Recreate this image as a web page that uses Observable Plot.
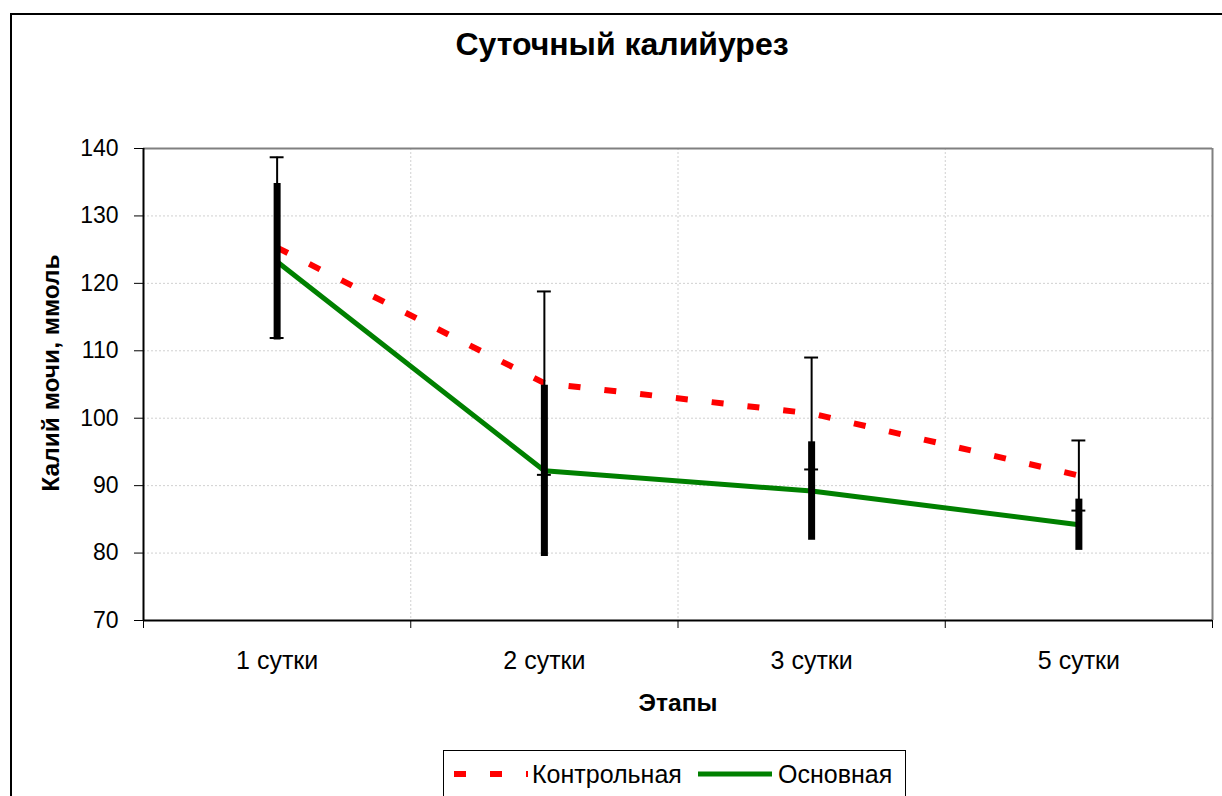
<!DOCTYPE html>
<html><head><meta charset="utf-8">
<script src="https://cdn.jsdelivr.net/npm/d3@7"></script>
<script src="https://cdn.jsdelivr.net/npm/@observablehq/plot@0.6"></script>
<style>
body{margin:0;background:#fff;font-family:"Liberation Sans",Arial,sans-serif;}
#wrap{position:relative;width:1222px;height:796px;overflow:hidden;}
#frame{position:absolute;left:10px;top:13px;width:1300px;height:900px;border:2px solid #000;box-sizing:border-box;}
#title{position:absolute;left:0;width:1244px;top:44px;transform:translateY(-50%);text-align:center;font-weight:bold;font-size:32px;line-height:1;}
#ylab{position:absolute;left:51px;top:373px;transform:translate(-50%,-50%) rotate(-90deg);font-weight:bold;font-size:24.5px;white-space:nowrap;line-height:1;}
#xlab{position:absolute;left:678px;top:703px;transform:translate(-50%,-50%);font-weight:bold;font-size:24.5px;line-height:1;}
#legend{position:absolute;left:443px;top:750px;width:463px;height:60px;border:1.5px solid #000;box-sizing:border-box;font-size:25px;line-height:1;}
#legend svg{position:absolute;left:0;top:0;}
#legend span{position:absolute;top:11px;}
#plot{position:absolute;left:0;top:0;}
</style></head>
<body>
<div id="wrap">
<div id="frame"></div>
<div id="plot"></div>
<div id="title">Суточный калийурез</div>
<div id="ylab">Калий мочи, ммоль</div>
<div id="xlab">Этапы</div>
<div id="legend">
<svg width="463" height="60"><line x1="10" x2="84" y1="23" y2="23" stroke="#ff0000" stroke-width="6" stroke-dasharray="12,24"/><line x1="254" x2="328" y1="23" y2="23" stroke="#008000" stroke-width="5"/></svg>
<span style="left:88px">Контрольная</span><span style="left:334px">Основная</span>
</div>
</div>
<script>
const categories = ["1 сутки", "2 сутки", "3 сутки", "5 сутки"];
const controlValues = [125.3, 105.2, 100.7, 91.5];
const controlErrors = [13.4, 13.6, 8.3, 5.2];
const mainValues = [123.2, 92.2, 89.2, 84.2];
const mainErrors = [11.6, 12.7, 7.3, 3.8];
const yTicks = [70, 80, 90, 100, 110, 120, 130, 140];

const control = categories.map((c, i) => ({i: i + 0.5, c, v: controlValues[i], lo: controlValues[i] - controlErrors[i], hi: controlValues[i] + controlErrors[i]}));
const main = categories.map((c, i) => ({i: i + 0.5, c, v: mainValues[i], lo: mainValues[i] - mainErrors[i], hi: mainValues[i] + mainErrors[i]}));
const bounds = d3.range(categories.length + 1);
const capHalf = 0.026; // half cap width, in category units

const chart = Plot.plot({
  width: 1222, height: 796,
  marginLeft: 143, marginRight: 10, marginTop: 148, marginBottom: 176,
  style: {fontFamily: "'Liberation Sans', Arial, sans-serif", fontSize: "23px", color: "#000", background: "transparent"},
  x: {type: "linear", domain: [0, categories.length], axis: null},
  y: {type: "linear", domain: [70, 140], axis: null},
  marks: [
    Plot.gridY(yTicks.slice(1, -1), {stroke: "#d0d0d0", strokeOpacity: 1, strokeDasharray: "2,2"}),
    Plot.gridX(bounds.slice(1, -1), {stroke: "#d0d0d0", strokeOpacity: 1, strokeDasharray: "2,2"}),
    Plot.ruleY([140], {stroke: "#808080", strokeWidth: 2}),
    Plot.ruleX([categories.length], {stroke: "#808080", strokeWidth: 2}),
    Plot.axisY(yTicks, {tickSize: 9, tickPadding: 16, fontSize: 23, stroke: "#000", label: null}),
    Plot.axisX(bounds, {tickSize: 8, tickFormat: () => "", stroke: "#000", label: null}),
    Plot.axisX(categories.map((c, i) => i + 0.5), {tickSize: 0, tickPadding: 31, fontSize: 25, tickFormat: (d) => categories[Math.floor(d)], label: null}),
    Plot.ruleX([0], {stroke: "#000", strokeWidth: 2}),
    Plot.ruleY([70], {stroke: "#000", strokeWidth: 2}),
    Plot.line(control, {x: "i", y: "v", stroke: "#ff0000", strokeWidth: 6, strokeDasharray: "12,24", strokeLinecap: "butt"}),
    Plot.line(main, {x: "i", y: "v", stroke: "#008000", strokeWidth: 5}),
    Plot.ruleX(control, {x: "i", y1: "lo", y2: "hi", stroke: "#000", strokeWidth: 2}),
    Plot.ruleY(control, {y: "lo", x1: (d) => d.i - capHalf, x2: (d) => d.i + capHalf, stroke: "#000", strokeWidth: 2}),
    Plot.ruleY(control, {y: "hi", x1: (d) => d.i - capHalf, x2: (d) => d.i + capHalf, stroke: "#000", strokeWidth: 2}),
    Plot.ruleX(main, {x: "i", y1: "lo", y2: "hi", stroke: "#000", strokeWidth: 7})
  ]
});
document.getElementById("plot").appendChild(chart);
</script>
</body></html>
